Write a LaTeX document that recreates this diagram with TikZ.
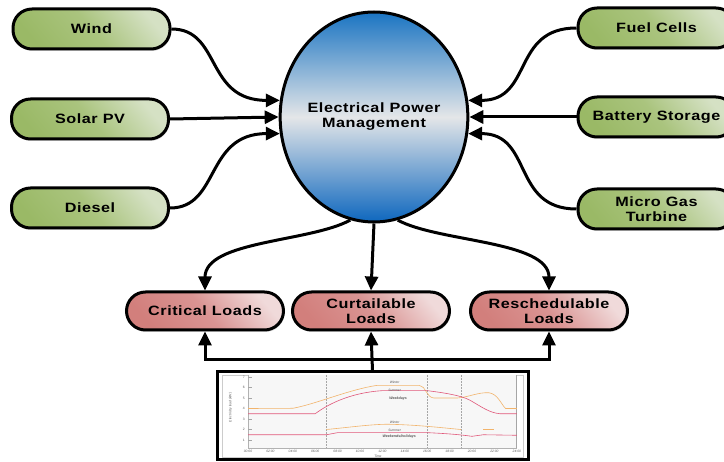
\documentclass[tikz,border=0pt]{standalone}
\usepackage{fontspec}
\setmainfont{Liberation Sans}
\newfontfamily\lbl{Liberation Sans Bold}[FakeStretch=1.2,LetterSpace=4]
\newfontfamily\chartfont{Liberation Sans}
\usetikzlibrary{arrows.meta,shapes.geometric,calc,shadows}
\definecolor{gD}{HTML}{9AB966}
\definecolor{gM}{HTML}{AAC47E}
\definecolor{gL}{HTML}{D5E1C4}
\definecolor{rD}{HTML}{D27F7C}
\definecolor{rM}{HTML}{DA9493}
\definecolor{rL}{HTML}{F0DADA}
\definecolor{bT}{HTML}{1A74C2}
\definecolor{bM}{HTML}{E4E6E8}
\definecolor{bB}{HTML}{0E67BE}
\definecolor{wOr}{HTML}{F2B46C}
\definecolor{sPk}{HTML}{E0587A}
\definecolor{chTxt}{HTML}{555555}
\begin{document}
\begin{tikzpicture}[x=1pt,y=-1pt,
  pill/.style={draw=black, line width=3pt, rounded corners=19pt,
    minimum width=157pt, minimum height=40pt, inner sep=0pt, align=center,
    font=\lbl\fontsize{13.5}{15}\selectfont,
    drop shadow={shadow xshift=1pt, shadow yshift=-2pt, opacity=0.25}},
  srcbox/.style={pill, top color=gL, bottom color=gD, middle color=gM, shading angle=-50},
  loadbox/.style={pill, minimum height=38pt, top color=rL, bottom color=rD, middle color=rM, shading angle=-50},
  conn/.style={line width=3pt, -{Triangle[length=14pt,width=13pt]}},
  curveW/.style={wOr, line width=0.6pt},
  curveS/.style={sPk, line width=0.6pt},
]
\useasboundingbox (0,0) rectangle (724,462);

% central ellipse
\node[draw, line width=3pt, ellipse, minimum width=182pt, minimum height=210pt,
  inner sep=0pt, top color=bT, bottom color=bB, middle color=bM, align=center,
  font=\lbl\fontsize{13.5}{15}\selectfont] (epm) at (374,117) {Electrical Power\\Management};

% sources
\node[srcbox] (wind) at (91.5,29) {Wind};
\node[srcbox] (solar) at (90,119) {Solar PV};
\node[srcbox] (diesel) at (90,208) {Diesel};
\node[srcbox] (fuel) at (656.5,28) {Fuel Cells};
\node[srcbox] (batt) at (656.5,117) {Battery Storage};
\node[srcbox] (micro) at (656.5,209) {Micro Gas\\Turbine};

% loads
\node[loadbox] (crit) at (205,311) {Critical Loads};
\node[loadbox] (cur) at (371,311) {Curtailable\\Loads};
\node[loadbox] (res) at (549,311) {Reschedulable\\Loads};

% source connectors
\draw[conn] (wind.east) .. controls +(50,0) and +(-75,0) .. (epm.170);
\draw[conn] (solar.east) -- (epm.180);
\draw[conn] (diesel.east) .. controls +(50,0) and +(-75,0) .. (epm.190);
\draw[conn] (fuel.west) .. controls +(-65,0) and +(65,0) .. (epm.10);
\draw[conn] (batt.west) -- (epm.0);
\draw[conn] (micro.west) .. controls +(-65,0) and +(65,0) .. (epm.-10);

% load connectors
\draw[conn] (epm.-103) .. controls +(-40,22) and +(0,-50) .. (crit.north);
\draw[conn] (epm.south) -- (cur.north);
\draw[conn] (epm.-77) .. controls +(40,22) and +(0,-50) .. (res.north);

% chart frame
\node[draw, line width=3pt, fill=white, minimum width=311pt, minimum height=88pt, inner sep=0pt] (chart) at (372.5,416) {};
\coordinate (jn) at (371,360);
\draw[conn] (chart.north) -- (cur.south);
\draw[conn] (jn) -| (crit.south);
\draw[conn] (jn) -| (res.south);

% chart content
\draw[gray!40, line width=0.5pt] (222,375.5) rectangle (523.5,457.5);
\begin{scope}[shift={(248,450.5)}, x=11.2pt, y=10.5pt,
  font=\chartfont\fontsize{3.3}{4}\selectfont, text=chTxt]
  \fill[gray!6] (0,0.24) rectangle (24,7.2);
  \draw[gray!60, line width=0.4pt] (0,7.2) -- (0,0.24) -- (24,0.24);
  \draw[gray!70, line width=1.2pt] (24,7.2) -- (24,0.24);
  \foreach \h in {7,16,19}
    \draw[gray!70, densely dotted, line width=0.5pt] (\h,7.2) -- (\h,0.24);
  \foreach \v in {1,...,7} {
    \draw[gray!70, line width=0.3pt] (0,\v) -- (0.35,\v);
    \node[anchor=east, inner sep=0.8pt] at (-0.2,\v) {\v};
  }
  \foreach \h/\t in {0/00:00,2/02:00,4/04:00,6/06:00,8/08:00,10/10:00,12/12:00,14/14:00,16/16:00,18/18:00,20/20:00,22/22:00,24/24:00}
    \node[anchor=north, inner sep=0.8pt] at (\h,0.1) {\textit{\t}};
  \node[rotate=90] at (-1.55,4.1) {\textit{Electricity load (kW)}};
  \node at (11.6,-0.6) {\textit{Time}};
  % weekday curves
  \draw[curveW] (0,4) -- (4,4.02) .. controls (6,4.4) and (9,5.8) .. (11.5,6.2)
     -- (15.3,6.2) .. controls (15.9,6.15) and (15.9,5.05) .. (16.6,5.0)
     -- (18.7,5.0) .. controls (19.8,5.1) and (20.5,5.55) .. (21.5,5.5)
     .. controls (22.3,5.4) and (22.6,4.4) .. (23,4.0) -- (24,4.0);
  \draw[curveS] (0,3.5) -- (6,3.5) .. controls (7,4.3) and (9,5.5) .. (12,5.7)
     -- (16,5.7) .. controls (17.5,5.5) and (19,5.25) .. (19.8,4.8)
     .. controls (20.8,4.2) and (21.5,3.6) .. (22.5,3.5) -- (24,3.5);
  % weekend curves
  \draw[curveW] (7,2.0) .. controls (9,2.2) and (11,2.5) .. (12.5,2.5)
     .. controls (15,2.45) and (17,2.2) .. (19,2.0);
  \draw[curveW] (21,2.0) -- (22,2.0);
  \draw[curveS] (0,1.5) -- (7,1.5) -- (8,1.7) -- (16,1.7) .. controls (18,1.6) and (19,1.5) .. (20,1.35)
     -- (21,1.5) -- (24,1.45);
  % labels
  \node at (13.1,6.45) {\textit{Winter}};
  \node at (13.1,5.7) {\textit{Summer}};
  \node[font=\chartfont\bfseries\fontsize{3.6}{4}\selectfont] at (13.4,4.95) {\textit{Weekdays}};
  \node at (13.1,2.7) {\textit{Winter}};
  \node at (13.1,1.95) {\textit{Summer}};
  \node[font=\chartfont\bfseries\fontsize{3.6}{4}\selectfont] at (13.5,1.3) {\textit{Weekends/holidays}};
\end{scope}
\end{tikzpicture}
\end{document}
